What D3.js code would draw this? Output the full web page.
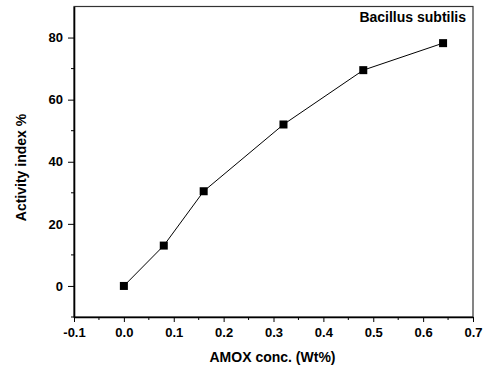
<!DOCTYPE html>
<html>
<head>
<meta charset="utf-8">
<script src="https://cdn.jsdelivr.net/npm/d3@7"></script>
<style>
body{margin:0;background:#fff;}
text{font-family:"Liberation Sans",Arial,sans-serif;font-weight:bold;}
</style>
</head>
<body>
<div id="canvas"></div>
<script>
var conc = [0, 0.08, 0.16, 0.32, 0.48, 0.64];
var activity = [0, 13, 30.5, 52, 69.5, 78.2];
var xTicks = [-0.1, 0, 0.1, 0.2, 0.3, 0.4, 0.5, 0.6, 0.7];
var yTicks = [0, 20, 40, 60, 80];

var W = 488, H = 369;
var m = {t:6.5, r:15, b:52, l:74};
var w = 473 - m.l, h = 317 - m.t;

var svg = d3.select('#canvas').append('svg')
    .attr('width', W).attr('height', H);
var plot = svg.append('g').attr('transform','translate('+m.l+','+m.t+')');

var x = d3.scaleLinear().domain([-0.1, 0.7]).range([0, w]);
var y = d3.scaleLinear().domain([-10, 90]).range([h, 0]);

// frame
plot.append('rect').attr('width', w).attr('height', h)
    .attr('fill','none').attr('stroke','#333').attr('stroke-width',1.2);

// minor ticks
var xMinor = d3.range(-0.05, 0.7, 0.1);
var yMinor = d3.range(-10, 90, 20);
plot.selectAll('.xm').data(xMinor).enter().append('line')
    .attr('x1', d => x(d)).attr('x2', d => x(d))
    .attr('y1', h).attr('y2', h + 3).attr('stroke','#000');
plot.selectAll('.ym').data(yMinor).enter().append('line')
    .attr('y1', d => y(d)).attr('y2', d => y(d))
    .attr('x1', 0).attr('x2', -3).attr('stroke','#000');

// axes
var fmtX = function(d){ return d3.format('.1f')(d).replace('\u2212','-'); };
var xAxis = plot.append('g').attr('transform','translate(0,'+h+')')
    .call(d3.axisBottom(x).tickValues(xTicks).tickSize(5).tickSizeOuter(0).tickFormat(fmtX));
var yAxis = plot.append('g')
    .call(d3.axisLeft(y).tickValues(yTicks).tickSize(6).tickSizeOuter(0).tickFormat(d3.format('d')));
[xAxis, yAxis].forEach(function(a){
    a.select('.domain').attr('stroke','#000').attr('stroke-width',1.6);
    a.selectAll('.tick line').attr('stroke','#000');
    a.selectAll('text').attr('fill','#000').style('font-size','13px')
        .style('font-family','"Liberation Sans",Arial,sans-serif').style('font-weight','bold');
});
xAxis.selectAll('text').attr('y', 11);
yAxis.selectAll('text').attr('x', -11);

// line + markers
var line = d3.line().x((d,i) => x(conc[i])).y(d => y(d));
plot.append('path').datum(activity).attr('d', line)
    .attr('fill','none').attr('stroke','#000').attr('stroke-width',1);
plot.selectAll('.pt').data(activity).enter().append('rect')
    .attr('x', (d,i) => x(conc[i]) - 4).attr('y', d => y(d) - 4)
    .attr('width', 8).attr('height', 8).attr('fill','#000');

// labels
svg.append('text').attr('x', 272.5).attr('y', 362).attr('text-anchor','middle')
    .style('font-size','14px').text('AMOX conc. (Wt%)');
svg.append('text').attr('transform','translate(26,167.5) rotate(-90)')
    .attr('text-anchor','middle').style('font-size','14px').text('Activity index %');
svg.append('text').attr('x', 466).attr('y', 22).attr('text-anchor','end')
    .style('font-size','14px').text('Bacillus subtilis');
</script>
</body>
</html>
